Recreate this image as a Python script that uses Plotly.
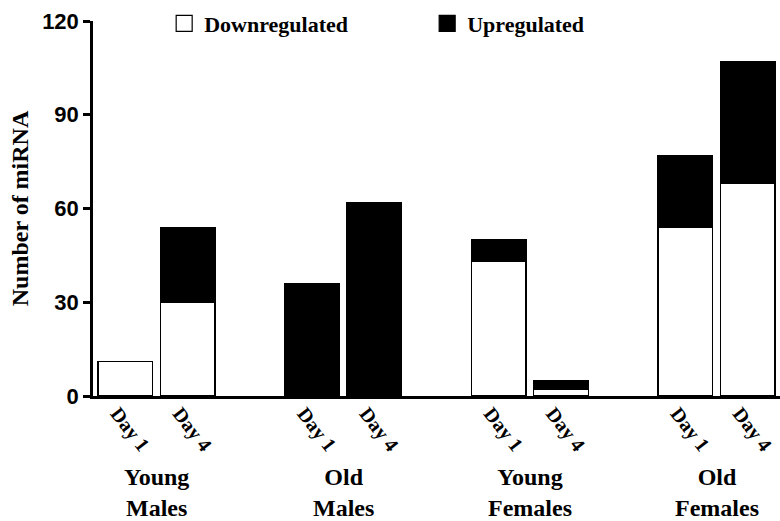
import plotly.graph_objects as go

groups = ["Young<br>Males", "Old<br>Males", "Young<br>Females", "Old<br>Females"]
days = ["Day 1", "Day 4"]
# per group: [Day 1, Day 4]
downregulated = [[11, 30], [0, 0], [43, 2], [54, 68]]
upregulated = [[0, 24], [36, 62], [7, 3], [23, 39]]
y_ticks = [0, 30, 60, 90, 120]

GROUP_STEP = 3
xs, down_vals, up_vals, tick_text = [], [], [], []
for gi, g in enumerate(groups):
    for di, d in enumerate(days):
        xs.append(gi * GROUP_STEP + di)
        down_vals.append(downregulated[gi][di])
        up_vals.append(upregulated[gi][di])
        tick_text.append(d)
group_centers = [gi * GROUP_STEP + 0.5 for gi in range(len(groups))]

SERIF = "Liberation Serif"
SANS = "Liberation Sans"

fig = go.Figure()
fig.add_trace(go.Bar(x=xs, y=down_vals, width=0.878, marker=dict(color="white", line=dict(color="black", width=1.2)),
                     showlegend=False, name="Downregulated"))
fig.add_trace(go.Bar(x=xs, y=up_vals, width=0.878, marker=dict(color="black", line=dict(color="black", width=1.2)),
                     showlegend=False, name="Upregulated"))
# legend entries
fig.add_trace(go.Scatter(x=[None], y=[None], mode="markers", name="Downregulated",
                         marker=dict(symbol="square", size=18, color="white", line=dict(color="black", width=1.2))))
fig.add_trace(go.Scatter(x=[None], y=[None], mode="markers", name="Upregulated",
                         marker=dict(symbol="square", size=18, color="black", line=dict(color="black", width=1.2))))

for gc, g in zip(group_centers, groups):
    fig.add_annotation(x=gc, y=-0.258, xref="x", yref="paper", text=g, showarrow=False,
                       font=dict(family=SERIF, size=24, color="black", weight="bold"),
                       xanchor="center", yanchor="middle", align="center")

fig.update_layout(
    width=780, height=521,
    margin=dict(l=93, r=0, t=21, b=125),
    paper_bgcolor="white", plot_bgcolor="white",
    barmode="stack",
    legend=dict(orientation="h", x=0.1036, y=0.993, xanchor="left", yanchor="middle", traceorder="normal",
                font=dict(family=SERIF, size=22, color="black", weight="bold"),
                entrywidth=218, entrywidthmode="pixels", bgcolor="rgba(0,0,0,0)"),
    xaxis=dict(range=[-0.52, 10.52], tickmode="array", tickvals=xs, ticktext=tick_text,
               tickangle=52, tickfont=dict(family=SERIF, size=20, color="black", weight="bold"),
               ticklabeloverflow="allow", ticklabelshift=-8, ticklabelstandoff=-5,
               showline=True, linecolor="black", linewidth=2.5, ticks="", showgrid=False, zeroline=False),
    yaxis=dict(range=[0, 120], tickmode="array", tickvals=y_ticks,
               tickfont=dict(family=SANS, size=22, color="black", weight="bold"),
               ticks="outside", ticklen=7, tickwidth=2.5, tickcolor="black",
               showline=True, linecolor="black", linewidth=2.5, showgrid=False, zeroline=False,
               title=dict(text="Number of miRNA", font=dict(family=SERIF, size=24, color="black", weight="bold"),
                          standoff=7)),
)

fig.write_html("out.html")
